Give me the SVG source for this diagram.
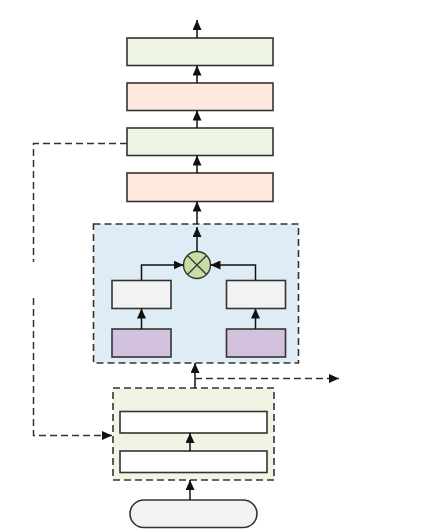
<svg xmlns="http://www.w3.org/2000/svg" width="433" height="532" viewBox="0 0 433 532">
<style>
.box{stroke:#333;stroke-width:1.6}
.g{fill:#eef5e2}
.s{fill:#fde9dd}
.w{fill:#f2f2f2}
.p{fill:#d2c2df}
.wh{fill:#ffffff}
.grp{stroke:#333;stroke-width:1.6;stroke-dasharray:7 4}
.ln{stroke:#111;stroke-width:1.5;fill:none}
.dl{stroke:#333;stroke-width:1.5;fill:none;stroke-dasharray:7 4}
</style>
<defs>
<marker id="ah" viewBox="0 0 10 9" refX="10" refY="4.5" markerWidth="10" markerHeight="9" markerUnits="userSpaceOnUse" orient="auto">
<path d="M0,0 L10,4.5 L0,9 z" fill="#111"/>
</marker>
</defs>
<rect width="433" height="532" fill="#ffffff"/>
<g id="group-blue">
<rect x="93.5" y="224" width="205" height="139" fill="#deedf5" class="grp"/>
</g>
<g id="group-green">
<rect x="113" y="388" width="161" height="92" fill="#eff5e2" class="grp"/>
</g>
<g id="box1"><rect x="127" y="38" width="146" height="27.5" class="box g"/></g>
<g id="box2"><rect x="127" y="83" width="146" height="27.5" class="box s"/></g>
<g id="box3"><rect x="127" y="128" width="146" height="27.5" class="box g"/></g>
<g id="box4"><rect x="127" y="173" width="146" height="28.5" class="box s"/></g>
<g id="mult">
<circle cx="197" cy="265" r="13.5" fill="#c9dca3" stroke="#333" stroke-width="1.4"/>
<path d="M187.5,255.5 L206.5,274.5 M206.5,255.5 L187.5,274.5" stroke="#333" stroke-width="1.3"/>
</g>
<g id="lw"><rect x="112" y="280.5" width="59" height="28" class="box w"/></g>
<g id="rw"><rect x="226.5" y="280.5" width="59" height="28" class="box w"/></g>
<g id="lp"><rect x="112" y="329" width="59" height="28" class="box p"/></g>
<g id="rp"><rect x="226.5" y="329" width="59" height="28" class="box p"/></g>
<g id="ib1"><rect x="120" y="411.5" width="147" height="21.5" class="box wh"/></g>
<g id="ib2"><rect x="120" y="451" width="147" height="21.5" class="box wh"/></g>
<g id="pill"><rect x="130" y="500" width="127" height="27.5" rx="13.75" class="box w"/></g>
<g id="connectors">
<line x1="197" y1="38" x2="197" y2="20" class="ln" marker-end="url(#ah)"/>
<line x1="197" y1="83" x2="197" y2="65.5" class="ln" marker-end="url(#ah)"/>
<line x1="197" y1="128" x2="197" y2="110.5" class="ln" marker-end="url(#ah)"/>
<line x1="197" y1="173" x2="197" y2="155.5" class="ln" marker-end="url(#ah)"/>
<line x1="197" y1="224" x2="197" y2="201.5" class="ln" marker-end="url(#ah)"/>
<line x1="197" y1="251.5" x2="197" y2="227" class="ln" marker-end="url(#ah)"/>
<polyline points="141.5,280.5 141.5,265 183.5,265" class="ln" marker-end="url(#ah)"/>
<polyline points="255.5,280.5 255.5,265 210.5,265" class="ln" marker-end="url(#ah)"/>
<line x1="141.5" y1="329" x2="141.5" y2="308.5" class="ln" marker-end="url(#ah)"/>
<line x1="255.5" y1="329" x2="255.5" y2="308.5" class="ln" marker-end="url(#ah)"/>
<line x1="195" y1="388" x2="195" y2="363" class="ln" marker-end="url(#ah)"/>
<line x1="195" y1="378.5" x2="339" y2="378.5" class="dl" marker-end="url(#ah)"/>
<line x1="190" y1="451" x2="190" y2="433" class="ln" marker-end="url(#ah)"/>
<line x1="190" y1="500" x2="190" y2="480" class="ln" marker-end="url(#ah)"/>
<polyline points="127,143.5 33.5,143.5 33.5,262" class="dl"/>
<polyline points="33.5,298 33.5,435.5 112,435.5" class="dl" marker-end="url(#ah)"/>
</g>
</svg>
